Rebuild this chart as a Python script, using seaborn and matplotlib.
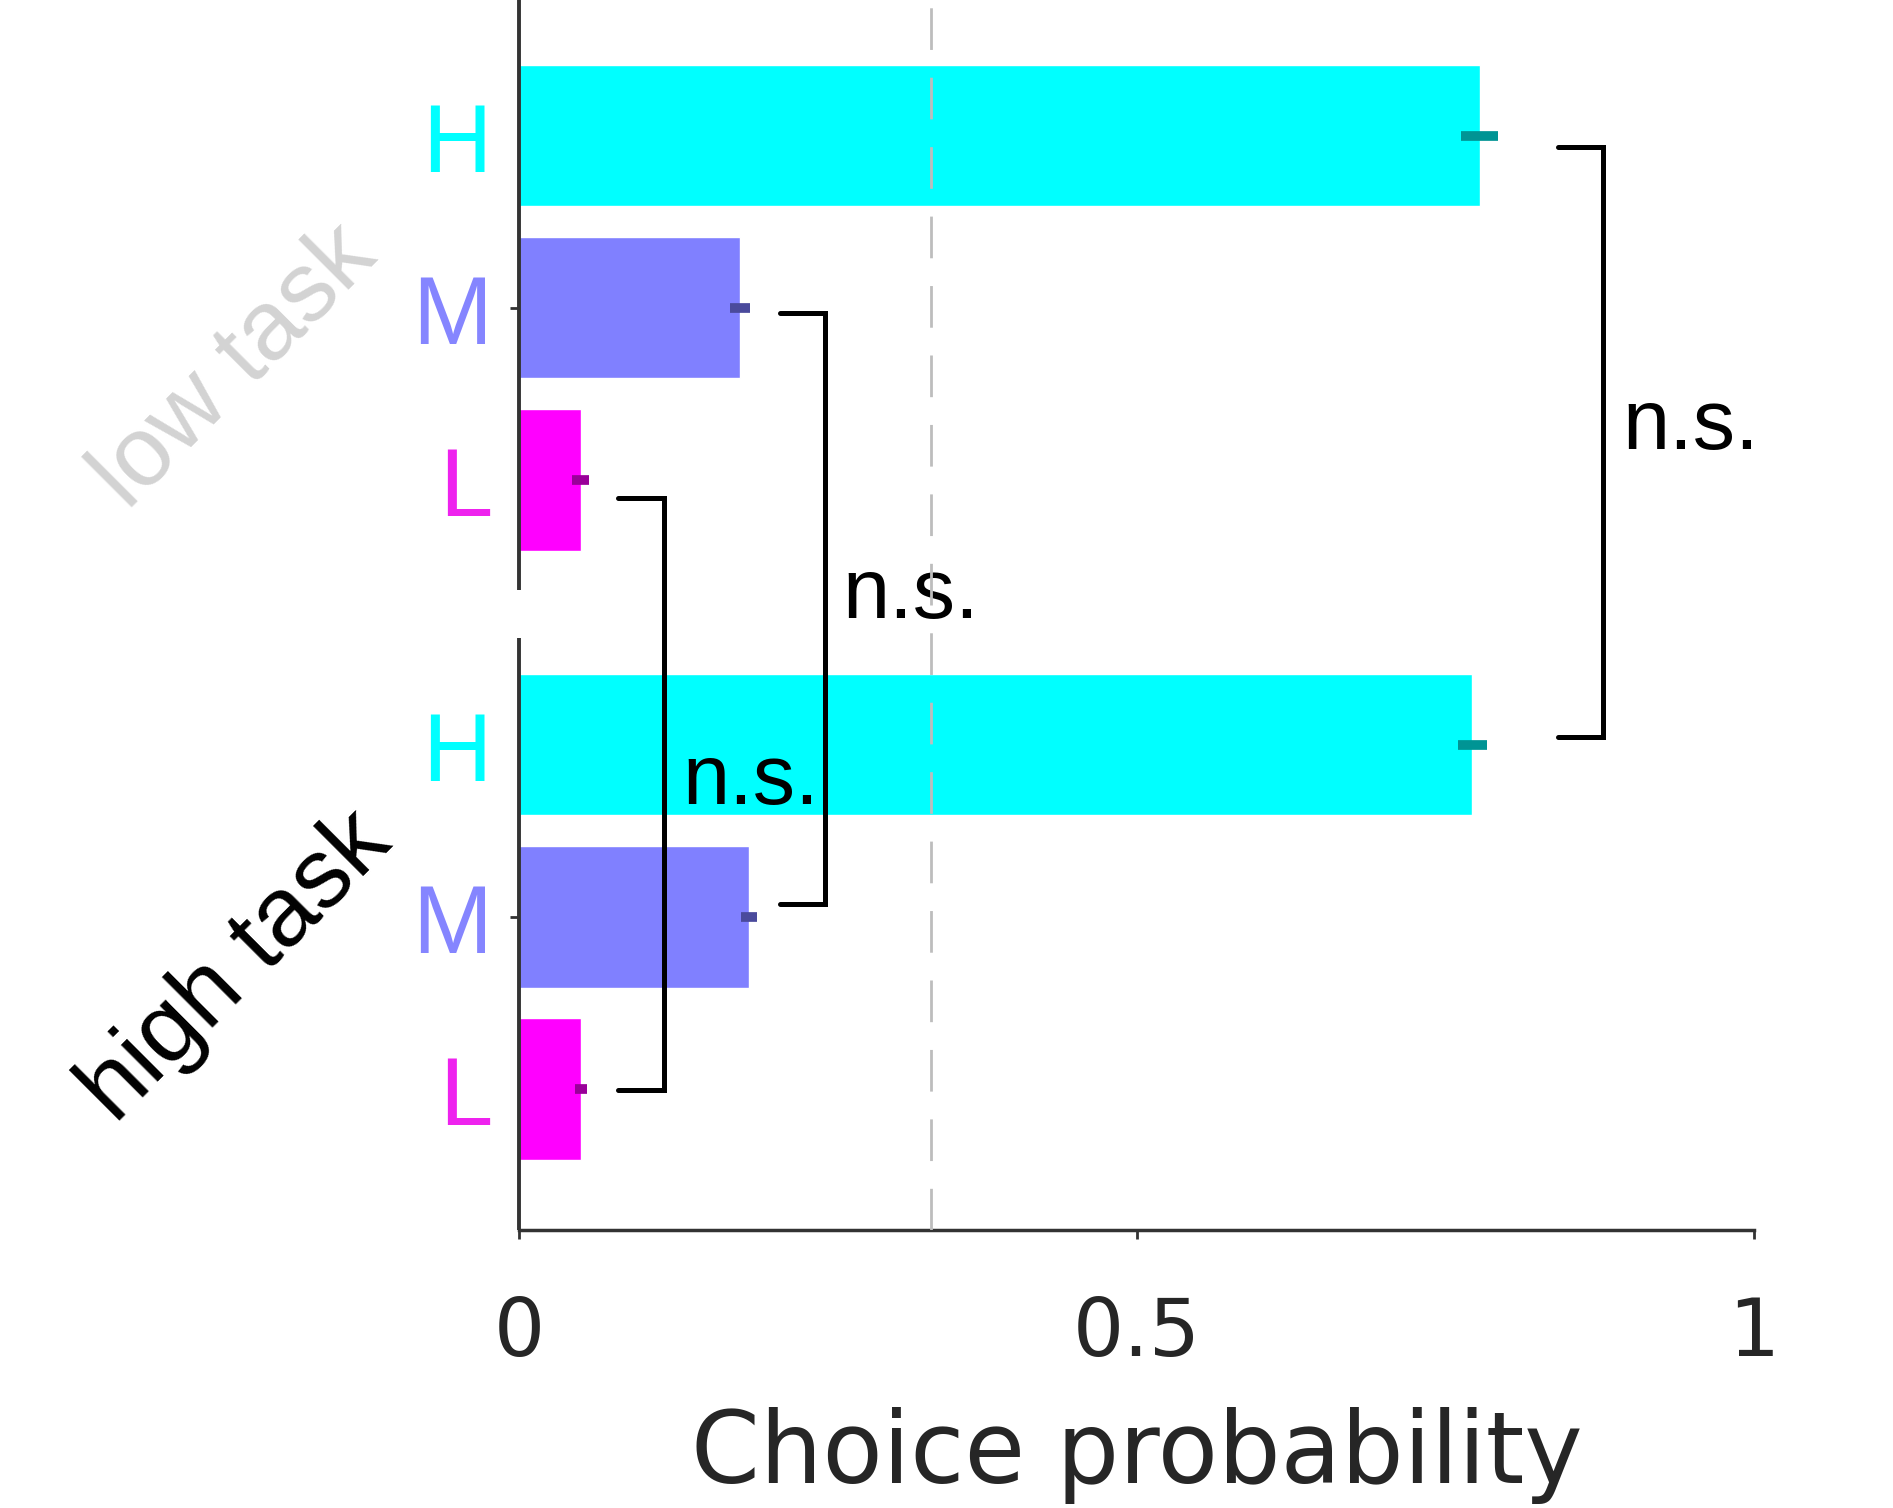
import pandas as pd
import seaborn as sns
import matplotlib.pyplot as plt

# bar data, top to bottom
tasks = ["low task", "low task", "low task", "high task", "high task", "high task"]
levels = ["H", "M", "L", "H", "M", "L"]
choice_prob = [0.778, 0.179, 0.050, 0.772, 0.186, 0.050]
choice_err = [0.015, 0.008, 0.007, 0.012, 0.0065, 0.005]
row_pos = [0.0, 1.0, 2.0, 3.54, 4.54, 5.54]

chance = 1 / 3
xticks = [0, 0.5, 1]
xticklabels = ["0", "0.5", "1"]
stat_label = "n.s."

bar_colors = {"H": "#00ffff", "M": "#8080ff", "L": "#ff00ff"}
err_colors = {"H": "#009494", "M": "#4a4a9c", "L": "#990099"}
letter_colors = {"H": "#00ffff", "M": "#8585ff", "L": "#ee22ee"}
task_colors = {"low task": "#d3d3d3", "high task": "black"}

df = pd.DataFrame({"task": tasks, "level": levels, "prob": choice_prob,
                   "err": choice_err, "pos": row_pos})

sns.set_theme(style="white")
plt.rcParams["font.family"] = ["DejaVu Sans"]
label_font = ["Liberation Sans", "DejaVu Sans"]

fig = plt.figure(figsize=(18.93, 15.08), dpi=100)
ax = fig.add_axes([0.2742, 0.1843, 0.6524, 0.8157])

sns.barplot(data=df, x="prob", y="pos", hue="level", palette=bar_colors,
            orient="y", native_scale=True, width=0.82, dodge=False,
            errorbar=None, legend=False, saturation=1, ax=ax)

# error bars
for _, r in df.iterrows():
    ax.errorbar(r["prob"], r["pos"], xerr=r["err"], fmt="none",
                ecolor=err_colors[r["level"]], elinewidth=7, capsize=0,
                zorder=4)

# chance level
ax.axvline(chance, color="#bdbdbd", lw=2, ls=(0, (15, 10)), zorder=5)

ax.set_xlim(0, 1)
ax.set_ylim(6.36, -0.79)

# broken left spine
for s in ["top", "right", "left"]:
    ax.spines[s].set_visible(False)
ax.spines["bottom"].set_linewidth(2.5)
ax.spines["bottom"].set_color("#333333")
ax.plot([0, 0], [-0.79, 2.64], color="#333333", lw=2.8, clip_on=False,
        solid_capstyle="butt", zorder=6)
ax.plot([0, 0], [2.92, 6.36], color="#333333", lw=2.8, clip_on=False,
        solid_capstyle="butt", zorder=6)

ax.set_yticks([row_pos[1], row_pos[4]])
ax.set_yticklabels(["", ""])
ax.set_ylabel("")
ax.tick_params(axis="y", left=True, length=6.5, width=2, color="#333333")
ax.set_xticks(xticks)
ax.set_xticklabels(xticklabels)
ax.tick_params(axis="x", bottom=True, length=6.5, width=2, color="#333333",
               pad=40, labelsize=58, labelcolor="#262626")
ax.set_xlabel("Choice probability", fontsize=71, color="#262626", labelpad=25)

# H / M / L letters
for _, r in df.iterrows():
    ax.text(-0.022, r["pos"] + 0.21, r["level"], ha="right", va="baseline",
            color=letter_colors[r["level"]], fontsize=69,
            family=label_font, clip_on=False)

# task labels
ax.text(-0.2297, 1.345, "low task", rotation=45, rotation_mode="anchor",
        ha="center", va="center", color=task_colors["low task"], fontsize=71,
        family=label_font)
ax.text(-0.2287, 4.835, "high task", rotation=45, rotation_mode="anchor",
        ha="center", va="center", color=task_colors["high task"], fontsize=71,
        family=label_font)

# significance brackets
def bracket(x0, x1, ya, yb, tx, ty):
    ax.plot([x0, x1, x1, x0], [ya, ya, yb, yb], color="black", lw=3.6,
            clip_on=False, solid_joinstyle="miter", zorder=6)
    ax.text(tx, ty, stat_label, ha="left", va="center", fontsize=61,
            family=label_font, color="black")

bracket(0.080, 0.117, 2.105, 5.544, 0.132, 3.755)
bracket(0.211, 0.248, 1.032, 4.463, 0.262, 2.672)
bracket(0.841, 0.878, 0.063, 3.495, 0.893, 1.690)

plt.savefig("out.png", dpi=100)
